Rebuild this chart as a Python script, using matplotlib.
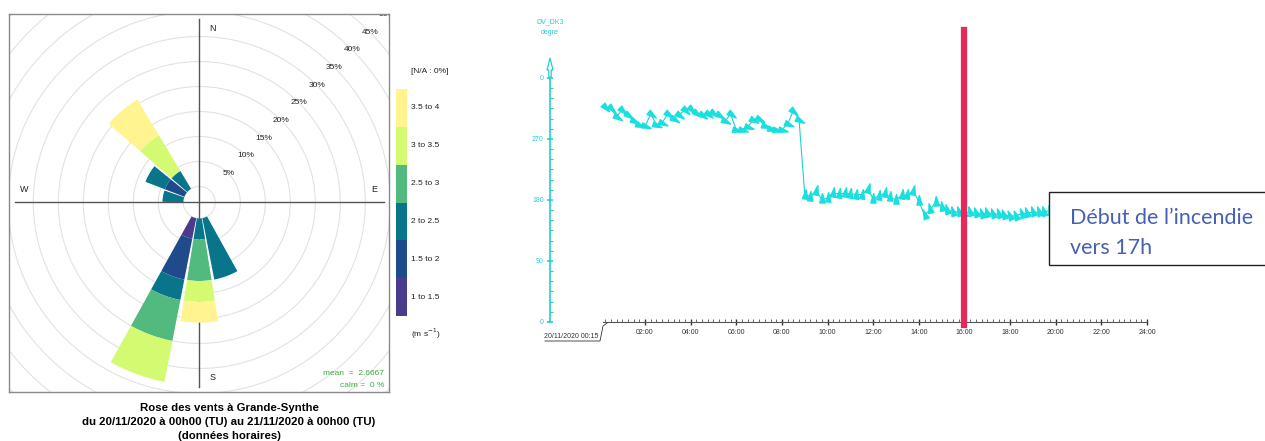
import numpy as np
import matplotlib.pyplot as plt
from matplotlib.patches import Wedge, Circle, Rectangle, Polygon
from matplotlib.lines import Line2D
from matplotlib.markers import MarkerStyle
from matplotlib.path import Path
from matplotlib.transforms import Affine2D

plt.rcParams['font.family'] = ['Liberation Sans', 'DejaVu Sans']

# ================================================================================= #
#                                   Data                                            #
# ================================================================================= #
# wind rose : hours per direction sector (24 hourly values)
directions = [160, 180, 200, 280, 300, 320]
speed_bins = ['1 to 1.5', '1.5 to 2', '2 to 2.5', '2.5 to 3', '3 to 3.5', '3.5 to 4']
bin_colors = ['#4A3B8C', '#1F4A8C', '#08758A', '#52BA7E', '#D4FA72', '#FFF48F']
hours_1_15 = [0, 0, 1, 0, 0, 0]
hours_15_2 = [0, 0, 2, 0, 1, 0]
hours_2_25 = [3, 1, 1, 1, 1, 1]
hours_25_3 = [0, 2, 2, 0, 0, 0]
hours_3_35 = [0, 1, 2, 0, 0, 2]
hours_35_4 = [0, 1, 0, 0, 0, 2]
n_hours = 24
ring_pct = [0, 5, 10, 15, 20, 25, 30, 35, 40, 45, 50]

# wind direction time series (every 15 min from 00:15)
dir_times = np.arange(0.25, 20.0, 0.25)
dir_values = [317, 315, 303, 313, 305, 297, 290, 289, 307, 291, 294, 307, 300, 306, 313,
              314, 308, 306, 307, 308, 305, 296, 307, 283, 284, 288, 298, 299, 289, 285,
              283, 284, 292, 312, 298,
              188, 185, 193, 181, 183, 190, 189, 190, 189, 188, 188, 196, 182, 186, 190,
              184, 180, 187, 188, 193,
              178, 158, 166, 177, 170, 165, 163, 162, 161, 162, 161, 160, 161, 160, 159,
              158, 156, 157, 160, 161, 162, 162, 163, 164]
x_ticks = [2, 4, 6, 8, 10, 12, 14, 16, 18, 20, 22, 24]
x_labels = ['02:00', '04:00', '06:00', '08:00', '10:00', '12:00', '14:00', '16:00',
            '18:00', '20:00', '22:00', '24:00']
y_ticks = [0, 90, 180, 270, 360]
y_labels = ['0', '90', '180', '270', '0']
fire_hour = 16

W, H = 1265, 441
fig = plt.figure(figsize=(W / 100, H / 100), dpi=100)

# ================================================================================= #
#                               Wind rose                                           #
# ================================================================================= #
hole = 3.2   # empty centre, in % units
ax1 = fig.add_axes([9 / W, 1 - 392 / H, 380 / W, 378 / H])
ax1.set_xlim(-190.3 / 5, 189.7 / 5)
ax1.set_ylim(-189.5 / 5, 188.5 / 5)
ax1.set_xticks([])
ax1.set_yticks([])
for s in ax1.spines.values():
    s.set_color('#8a8a8a')
    s.set_linewidth(1.0)

for p in ring_pct:
    ax1.add_patch(Circle((0, 0), hole + p, fill=False, ec='#e2e2e2', lw=0.8, zorder=1))
    if p > 0:
        r = hole + p
        ax1.text(r * np.cos(np.pi / 4), r * np.sin(np.pi / 4), f'{p}%', fontsize=6,
                 ha='center', va='center', color='#222222', clip_on=True, zorder=2)

ax1.axhline(0, xmin=0.016, xmax=0.987, color='#555555', lw=1.0, zorder=2)
ax1.axvline(0, ymin=0.013, ymax=0.987, color='#555555', lw=1.0, zorder=2)
ax1.text(2.6, 34.8, 'N', fontsize=6.5, ha='center', va='center', color='#222222')
ax1.text(2.6, -35.1, 'S', fontsize=6.5, ha='center', va='center', color='#222222')
ax1.text(-35.0, 2.5, 'W', fontsize=6.5, ha='center', va='center', color='#222222')
ax1.text(35.0, 2.5, 'E', fontsize=6.5, ha='center', va='center', color='#222222')

stack = [hours_1_15, hours_15_2, hours_2_25, hours_25_3, hours_3_35, hours_35_4]
half = 9
for j, d in enumerate(directions):
    base = 0.0
    for b in range(len(stack)):
        pct = stack[b][j] / n_hours * 100
        if pct <= 0:
            continue
        ax1.add_patch(Wedge((0, 0), hole + base + pct, 90 - d - half, 90 - d + half,
                            width=pct, fc=bin_colors[b], ec='none', zorder=3))
        base += pct

ax1.text(0.987, 0.05, 'mean  =  2.6667', transform=ax1.transAxes, fontsize=6,
         ha='right', va='center', color='#3CAA3C')
ax1.text(0.987, 0.018, 'calm =  0 %', transform=ax1.transAxes, fontsize=6,
         ha='right', va='center', color='#3CAA3C')

fig.text(229 / W, 1 - 408 / H, 'Rose des vents à Grande-Synthe', fontsize=8.2,
         fontweight='bold', ha='center', va='center')
fig.text(229 / W, 1 - 422 / H, 'du 20/11/2020 à 00h00 (TU) au 21/11/2020 à 00h00 (TU)',
         fontsize=8.2, fontweight='bold', ha='center', va='center')
fig.text(229 / W, 1 - 436 / H, '(données horaires)', fontsize=8.2,
         fontweight='bold', ha='center', va='center')

# colour key
axk = fig.add_axes([396 / W, 1 - 316 / H, 11 / W, 227 / H])
axk.bar(np.zeros(len(speed_bins)), np.ones(len(speed_bins)), bottom=np.arange(len(speed_bins)),
        width=1, color=bin_colors, align='center')
axk.set_xlim(-0.5, 0.5)
axk.set_ylim(0, len(speed_bins))
axk.axis('off')
for i, lab in enumerate(speed_bins):
    axk.text(1.36, i + 0.5, lab, transform=axk.get_yaxis_transform(), fontsize=6,
             ha='left', va='center', color='#222222')
axk.text(1.36, 1.075, '[N/A : 0%]', transform=axk.transAxes, fontsize=6,
         ha='left', va='center', color='#222222')
axk.text(1.36, -0.08, '(m s$^{-1}$)', transform=axk.transAxes, fontsize=6,
         ha='left', va='center', color='#222222')

# ================================================================================= #
#                               Direction time series                               #
# ================================================================================= #
cyan = '#22CFCD'
px_h = 22.818
px_deg = 0.6778
ax2 = fig.add_axes([550 / W, 1 - 322 / H, 600 / W, 292 / H])
x0 = (550 - 599.4) / px_h
ax2.set_xlim(x0, (1150 - 599.4) / px_h)
ax2.set_ylim(0, 292 / px_deg)
ax2.patch.set_alpha(0)
ax2.spines['top'].set_visible(False)
ax2.spines['right'].set_visible(False)
ax2.spines['left'].set_color(cyan)
ax2.spines['left'].set_linewidth(1.2)
ax2.spines['left'].set_bounds(0, 370)
ax2.spines['bottom'].set_color('#555555')
ax2.spines['bottom'].set_linewidth(0.8)
ax2.spines['bottom'].set_bounds(0.15, 24)

ax2.set_yticks(y_ticks)
ax2.set_yticklabels(y_labels)
ax2.set_yticks(np.arange(0, 361, 15), minor=True)
ax2.tick_params(axis='y', which='major', direction='inout', length=5, width=1.2,
                color=cyan, labelcolor=cyan, labelsize=5, pad=2)
ax2.tick_params(axis='y', which='minor', direction='in', length=2.5, width=0.8, color=cyan)
ax2.set_xticks(x_ticks)
ax2.set_xticklabels(x_labels)
ax2.set_xticks(np.arange(0.25, 24, 0.25), minor=True)
ax2.tick_params(axis='x', which='major', direction='inout', length=4, width=1.0,
                color='#333333', labelcolor='#333333', labelsize=5, pad=3)
ax2.tick_params(axis='x', which='minor', direction='in', length=2, width=0.6, color='#555555')

# open arrow on top of the y axis
ax_px = 1 / px_h
arrow = [(0, 58), (-3, 70), (-1.2, 70), (-1.2, 77), (1.2, 77), (1.2, 70), (3, 70)]
ax2.add_patch(Polygon([(x0 + dx * ax_px, (322 - y) / px_deg) for dx, y in arrow],
                      closed=True, fc='white', ec=cyan, lw=0.9, clip_on=False, zorder=4))

ax2.plot(dir_times, dir_values, color=cyan, lw=0.8, zorder=3)
head = Path([(0, 1), (-0.45, -0.6), (0.45, -0.6), (0, 1)], closed=True)
for t, v in zip(dir_times, dir_values):
    m = MarkerStyle(head, transform=Affine2D().rotate_deg(-(v + 180)))
    ax2.plot(t, v, marker=m, ms=8.5, color='#18E0E0', ls='none', zorder=3)

ax2.axvline(fire_hour, ymin=-3 / 292, ymax=1, color='#E6285C', lw=4.5, clip_on=False, zorder=4)

fig.text(550 / W, 1 - 22 / H, 'DV_DK3', fontsize=5, ha='center', va='center', color=cyan)
fig.text(550 / W, 1 - 32 / H, 'degre', fontsize=5, ha='center', va='center', color=cyan)
fig.text(571 / W, 1 - 337 / H, '20/11/2020 00:15', fontsize=5, ha='center', va='center',
         color='#333333')
fig.add_artist(Line2D([545 / W, 600 / W, 603 / W, 607 / W],
                      [1 - 341 / H, 1 - 341 / H, 1 - 326 / H, 1 - 323 / H],
                      color='#333333', lw=0.6))

# annotation box
fig.add_artist(Rectangle((1049 / W, 1 - 265 / H), 300 / W, 73 / H, fc='white', ec='#222222',
                         lw=1.0, transform=fig.transFigure, zorder=5))
fig.text(1070 / W, 1 - 218 / H, 'Début de l’incendie', fontsize=15.5, ha='left', va='center',
         color='#4660B4', family=['Lato', 'DejaVu Sans'], zorder=6)
fig.text(1070 / W, 1 - 248 / H, 'vers 17h', fontsize=15.5, ha='left', va='center',
         color='#4660B4', family=['Lato', 'DejaVu Sans'], zorder=6)

fig.savefig('out.png', dpi=100)
